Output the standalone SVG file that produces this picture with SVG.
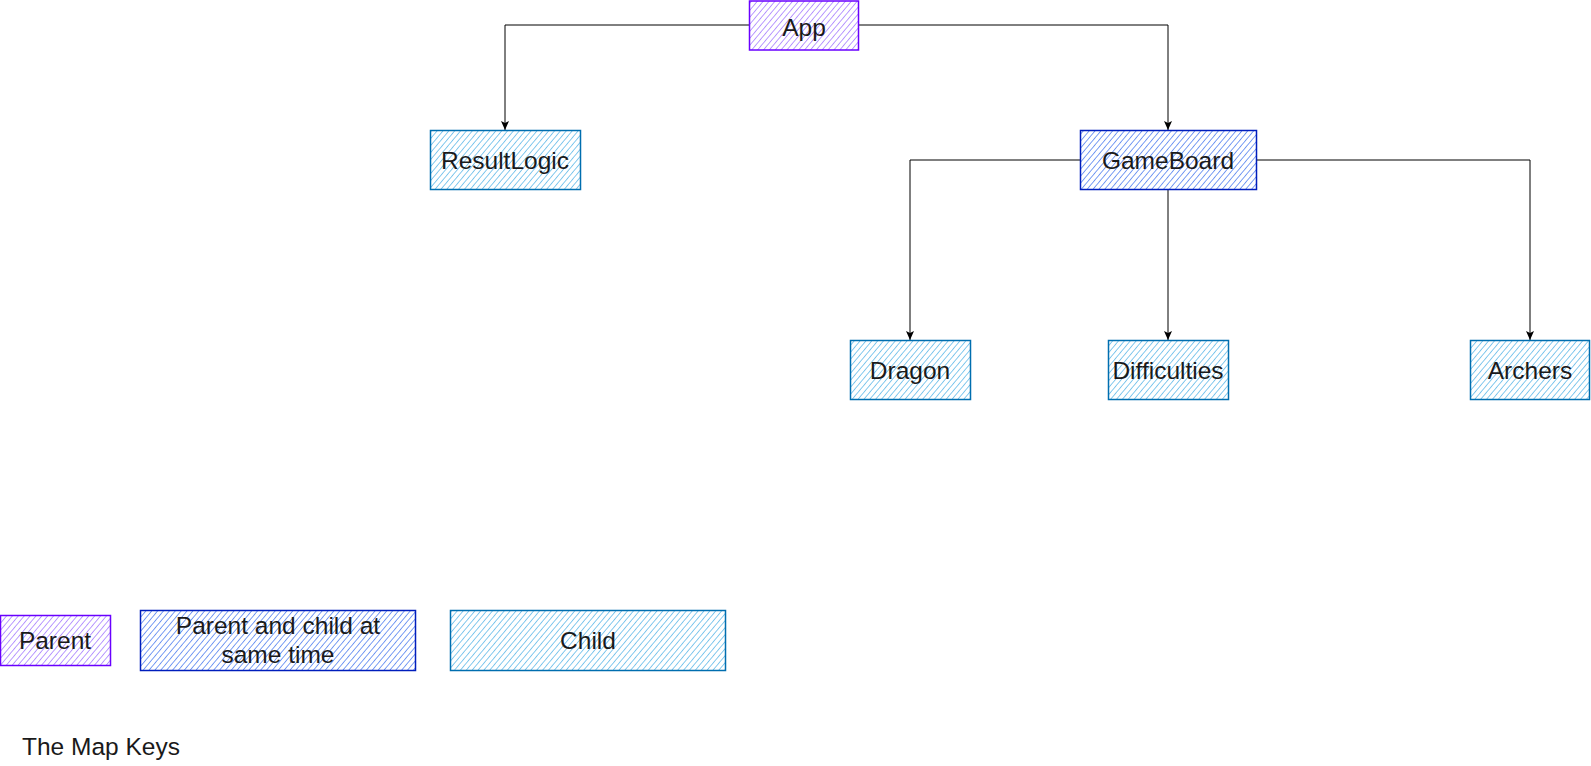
<svg xmlns="http://www.w3.org/2000/svg" width="1591" height="766" viewBox="0 0 1591 766">
<defs>
<pattern id="hP" width="4.5" height="4.5" patternUnits="userSpaceOnUse" patternTransform="rotate(40)"><line x1="0" y1="0" x2="0" y2="4.5" stroke="#a47aff" stroke-width="1.5"/></pattern>
<pattern id="hB" width="4.5" height="4.5" patternUnits="userSpaceOnUse" patternTransform="rotate(40)"><line x1="0" y1="0" x2="0" y2="4.5" stroke="#4f7ef0" stroke-width="1.5"/></pattern>
<pattern id="hC" width="4.5" height="4.5" patternUnits="userSpaceOnUse" patternTransform="rotate(40)"><line x1="0" y1="0" x2="0" y2="4.5" stroke="#5db8e8" stroke-width="1.5"/></pattern>
<marker id="arr" markerWidth="10" markerHeight="10" refX="9" refY="5" orient="auto" markerUnits="userSpaceOnUse"><path d="M0,1 L9,5 L0,9 L2,5 Z" fill="#000"/></marker>
</defs>
<style>
.p{fill:url(#hP);stroke:#6a00ff;stroke-width:1.5}
.b{fill:url(#hB);stroke:#001dbc;stroke-width:1.5}
.c{fill:url(#hC);stroke:#006eaf;stroke-width:1.5}
text{font-family:"Liberation Sans",Arial,sans-serif;font-size:24.5px;fill:#1a1a1a;text-anchor:middle}
.e{fill:none;stroke:#000;stroke-width:1;marker-end:url(#arr)}
</style>
<g id="connectors">
<path class="e" d="M749,25 H505 V130"/>
<path class="e" d="M859,25 H1168 V130"/>
<path class="e" d="M1080,160 H910 V340"/>
<path class="e" d="M1168,190 V340"/>
<path class="e" d="M1256,160 H1530 V340"/>
</g>
<g id="app"><rect class="p" x="749.5" y="1" width="109" height="49"/><text x="804" y="36">App</text></g>
<g id="resultlogic"><rect class="c" x="430.5" y="130.5" width="150" height="59"/><text x="505" y="169">ResultLogic</text></g>
<g id="gameboard"><rect class="b" x="1080.5" y="130.5" width="176" height="59"/><text x="1168" y="169">GameBoard</text></g>
<g id="dragon"><rect class="c" x="850.5" y="340.5" width="120" height="59"/><text x="910" y="379">Dragon</text></g>
<g id="difficulties"><rect class="c" x="1108.5" y="340.5" width="120" height="59"/><text x="1168" y="379">Difficulties</text></g>
<g id="archers"><rect class="c" x="1470.5" y="340.5" width="119" height="59"/><text x="1530" y="379">Archers</text></g>
<g id="key-parent"><rect class="p" x="0.5" y="615.5" width="110" height="50"/><text x="55" y="649">Parent</text></g>
<g id="key-both"><rect class="b" x="140.5" y="610.5" width="275" height="60"/><text x="278" y="634">Parent and child at</text><text x="278" y="663">same time</text></g>
<g id="key-child"><rect class="c" x="450.5" y="610.5" width="275" height="60"/><text x="588" y="649">Child</text></g>
<text x="22" y="755" style="text-anchor:start">The Map Keys</text>
</svg>
